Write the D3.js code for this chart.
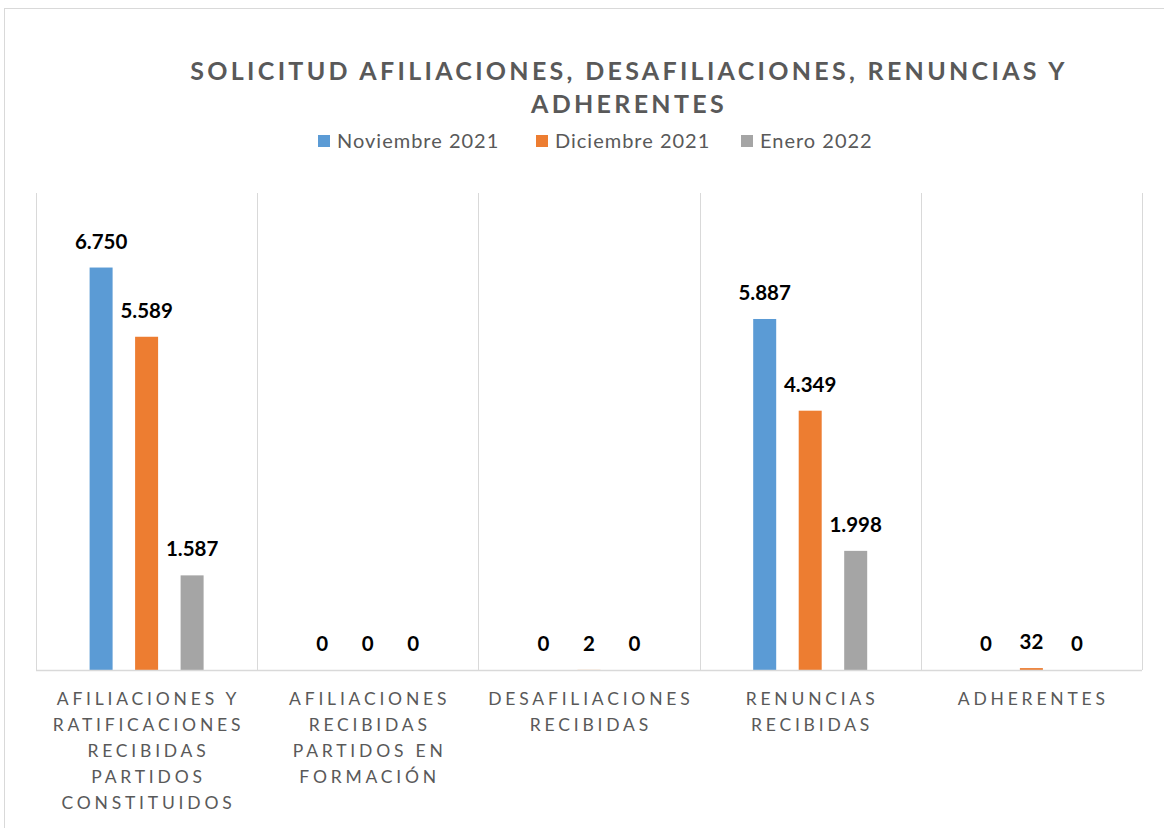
<!DOCTYPE html>
<html>
<head>
<meta charset="utf-8">
<script src="https://cdn.jsdelivr.net/npm/d3@7"></script>
<style>
  body { margin: 0; background: #fff; }
  text { font-family: Lato, "Open Sans", sans-serif; }
</style>
</head>
<body>
<div id="chart"></div>
<script>
// data
var categories = ["afil", "afilForm", "desafil", "renuncias", "adherentes"];
var categoryLines = [
  ["AFILIACIONES Y", "RATIFICACIONES", "RECIBIDAS", "PARTIDOS", "CONSTITUIDOS"],
  ["AFILIACIONES", "RECIBIDAS", "PARTIDOS EN", "FORMACIÓN"],
  ["DESAFILIACIONES", "RECIBIDAS"],
  ["RENUNCIAS", "RECIBIDAS"],
  ["ADHERENTES"]
];
var seriesNames = ["Noviembre 2021", "Diciembre 2021", "Enero 2022"];
var noviembre = [6750, 0, 0, 5887, 0];
var diciembre = [5589, 0, 2, 4349, 32];
var enero = [1587, 0, 0, 1998, 0];
var colors = ["#5b9bd5", "#ed7d31", "#a5a5a5"];

var seriesValues = [noviembre, diciembre, enero];

var W = 1164, H = 828;
var margin = { top: 193, right: 22, bottom: 158, left: 36 },
    width = W - margin.left - margin.right,
    height = H - margin.top - margin.bottom;

var fmt = d3.formatLocale({ decimal: ",", thousands: ".", grouping: [3], currency: ["", ""] }).format(",d");

var svg = d3.select("#chart").append("svg")
    .attr("width", W)
    .attr("height", H);

// outer chart frame
svg.append("rect")
    .attr("x", 4.5).attr("y", 8.5)
    .attr("width", W + 10).attr("height", H + 10)
    .attr("fill", "none").attr("stroke", "#d9d9d9");

var g = svg.append("g")
    .attr("transform", "translate(" + margin.left + "," + margin.top + ")");

var x0 = d3.scaleBand().domain(categories).range([0, width]).padding(0);
var y = d3.scaleLinear().domain([0, 8000]).range([height, 0]);

// vertical separators between categories
var bounds = categories.map(function (c) { return x0(c); }).concat([width]);
g.selectAll(".sep")
  .data(bounds)
  .enter().append("line")
    .attr("x1", function (d) { return Math.round(d) + 0.5; })
    .attr("x2", function (d) { return Math.round(d) + 0.5; })
    .attr("y1", 0).attr("y2", height)
    .attr("stroke", "#d9d9d9");

// bars
var rows = [];
categories.forEach(function (c, i) {
  seriesNames.forEach(function (s, j) {
    rows.push({ cat: c, series: s, j: j, value: seriesValues[j][i] });
  });
});

var barW = 23;
function barX(d) {
  var step = 45.5;
  return x0(d.cat) + x0.bandwidth() / 2 + (d.j - 1) * step - barW / 2;
}

g.selectAll(".bar")
  .data(rows)
  .enter().append("rect")
    .attr("class", "bar")
    .attr("x", barX)
    .attr("y", function (d) { return y(d.value); })
    .attr("width", barW)
    .attr("height", function (d) { return height - y(d.value); })
    .attr("fill", function (d) { return colors[d.j]; });

// data labels
g.selectAll(".lbl")
  .data(rows)
  .enter().append("text")
    .attr("x", function (d) { return barX(d) + barW / 2; })
    .attr("y", function (d) { return y(d.value) - 19; })
    .attr("text-anchor", "middle")
    .attr("font-size", 20.5)
    .attr("font-weight", "bold")
    .attr("fill", "#000")
    .text(function (d) { return fmt(d.value); });

// baseline axis
g.append("line")
  .attr("x1", 0).attr("x2", width)
  .attr("y1", height + 0.5).attr("y2", height + 0.5)
  .attr("stroke", "#d9d9d9").attr("stroke-width", 1.5);

// category labels
var catLbl = g.selectAll(".cat")
  .data(categories)
  .enter().append("text")
    .attr("text-anchor", "middle")
    .attr("font-size", 17.5)
    .attr("letter-spacing", 3.8)
    .attr("fill", "#595959");
catLbl.each(function (c, i) {
  var t = d3.select(this);
  categoryLines[i].forEach(function (line, k) {
    t.append("tspan")
      .attr("x", x0(c) + x0.bandwidth() / 2 + 1.9)
      .attr("y", height + 35 + k * 26)
      .text(line);
  });
});

// title
var title = svg.append("text")
    .attr("text-anchor", "middle")
    .attr("font-size", 25)
    .attr("font-weight", "bold")
    .attr("letter-spacing", 3.3)
    .attr("fill", "#595959");
title.append("tspan").attr("x", 629).attr("y", 80).text("SOLICITUD AFILIACIONES, DESAFILIACIONES, RENUNCIAS Y");
title.append("tspan").attr("x", 629).attr("y", 113).text("ADHERENTES");

// legend
var legendX = [318, 536, 741];
var legend = svg.selectAll(".legend")
  .data(seriesNames)
  .enter().append("g")
    .attr("transform", function (d, i) { return "translate(" + legendX[i] + ",135)"; });
legend.append("rect")
  .attr("width", 12).attr("height", 12)
  .attr("fill", function (d, i) { return colors[i]; });
legend.append("text")
  .attr("x", 19).attr("y", 13)
  .attr("font-size", 20)
  .attr("letter-spacing", 1)
  .attr("fill", "#595959")
  .text(function (d) { return d; });
</script>
</body>
</html>
